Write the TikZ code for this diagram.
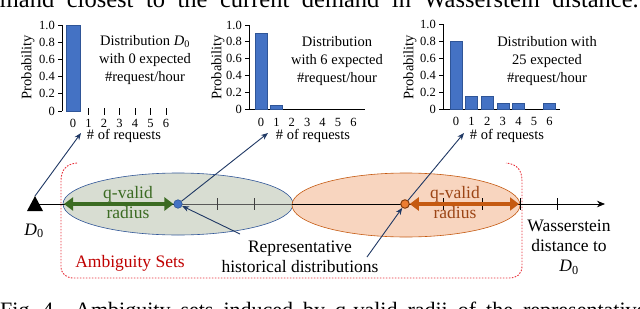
\documentclass[tikz,border=0pt]{standalone}
\usepackage{fontspec}
\setmainfont{Liberation Serif}
\usetikzlibrary{arrows.meta}
\definecolor{barblue}{HTML}{4472C4}
\definecolor{barbord}{HTML}{2F5597}
\definecolor{navy}{HTML}{1F3864}
\definecolor{gfill}{HTML}{D8DDD2}
\definecolor{ofill}{HTML}{F8D5BF}
\definecolor{oline}{HTML}{C55A11}
\definecolor{gdark}{HTML}{3B6B22}
\definecolor{otext}{HTML}{9C4515}
\definecolor{rline}{HTML}{E8303A}
\definecolor{rtext}{HTML}{C00000}
\definecolor{odotc}{HTML}{ED7D31}
\definecolor{odotb}{HTML}{843C0C}
\tikzset{
  lbl/.style={font=\fontsize{17.5}{20}\selectfont, align=center, inner sep=0pt},
  chtxt/.style={font=\fontsize{14.5}{18}\selectfont, align=center, inner sep=0pt},
  ticklab/.style={font=\fontsize{12.5}{13}\selectfont, inner sep=0pt},
  xlab/.style={font=\fontsize{12.5}{13}\selectfont, inner sep=0pt, anchor=base},
  bar/.style={fill=barblue, draw=barbord, line width=0.6pt},
  navyarrow/.style={draw=navy, line width=0.9pt, -{Stealth[length=7pt,width=5.5pt]}},
  radarrow/.style={line width=3.6pt, {Triangle[length=9pt,width=13pt]}-{Triangle[length=9pt,width=13pt]}},
  axtick/.style={line width=0.7pt},
  capt/.style={inner sep=0pt, font=\fontsize{24.5}{24.5}\selectfont},
}
\begin{document}
\begin{tikzpicture}[x=1pt,y=-1pt]
\clip (0,0) rectangle (640,308);
\fill[white] (0,0) rectangle (640,308);

% ---- captions (cut off by the frame, as in the reference) ----
\node[capt, anchor=base east] (captop) at (639,7) {\spaceskip=12.5pt\relax mand closest to the current demand in Wasserstein distance.};
\node[capt, anchor=base west, font=\fontsize{22}{22}\selectfont] (capfig) at (0,317) {Fig. 4.};
\node[capt, anchor=base west, font=\fontsize{22}{22}\selectfont] (capbot) at (75,317) {\spaceskip=10pt\relax Ambiguity sets induced by q-valid radii of the representative};

% ---- chart 1 ----
\draw[line width=0.8pt] (62,25) -- (62,111);
\foreach \v/\t in {0/0,1/0.2,2/0.4,3/0.6,4/0.8,5/1.0}{
  \draw[axtick] (58,111-\v*17.2) -- (62,111-\v*17.2);
  \node[ticklab, anchor=east] (ya\v) at (55,111-\v*17.2) {\t};
}
\draw[bar] (66,111) rectangle (80,25);
\foreach \k in {1,...,6}{\draw[axtick] (73+\k*15.5,108) -- (73+\k*15.5,115);}
\foreach \k in {0,...,6}{\node[xlab] (xa\k) at (73+\k*15.5,127) {\k};}
\node[chtxt, anchor=base] (xla) at (124,139) {\# of requests};
\node[chtxt, rotate=90] (pa) at (28,67) {Probability};
\node[chtxt] (ta) at (145,60) {Distribution {\itshape D}\textsubscript{0}\\with 0 expected\\\#request/hour};

% ---- chart 2 ----
\draw[line width=0.8pt] (249,25) -- (249,109) -- (365,109);
\foreach \v/\t in {0/0,1/0.2,2/0.4,3/0.6,4/0.8,5/1.0}{
  \draw[axtick] (245,109-\v*16.8) -- (249,109-\v*16.8);
  \node[ticklab, anchor=east] (yb\v) at (242,109-\v*16.8) {\t};
}
\draw[bar] (255,109) rectangle (267,33.4);
\draw[bar] (270.5,109) rectangle (282.5,104.8);
\foreach \k in {0,...,6}{\node[xlab] (xb\k) at (261+\k*15.4,126) {\k};}
\node[chtxt, rotate=90] (pb) at (218,67) {Probability};
\node[chtxt, anchor=base] (xlb) at (313,139) {\# of requests};
\node[chtxt] (tb) at (337,61) {Distribution\\with 6 expected\\\#request/hour};

% ---- chart 3 ----
\draw[line width=0.8pt] (443,24) -- (443,109) -- (560,109);
\foreach \v/\t in {0/0,1/0.2,2/0.4,3/0.6,4/0.8,5/1.0}{
  \draw[axtick] (439,109-\v*17) -- (443,109-\v*17);
  \node[ticklab, anchor=east] (yc\v) at (436,109-\v*17) {\t};
}
\foreach \k/\p in {0/0.8,1/0.15,2/0.15,3/0.07,4/0.07,6/0.07}{
  \draw[bar] (450+\k*15.6,109) rectangle (462+\k*15.6,109-\p*85);
}
\foreach \k in {0,...,6}{\node[xlab] (xc\k) at (456+\k*15.6,125.5) {\k};}
\node[chtxt, rotate=90] (pc) at (410,67) {Probability};
\node[chtxt, anchor=base] (xlc) at (507,139) {\# of requests};
\node[chtxt] (tc) at (547,61) {Distribution with\\25 expected\\\#request/hour};

% ---- ellipses ----
\draw[draw=barbord, line width=0.6pt, fill=gfill] (178,204) ellipse [x radius=115pt, y radius=31pt];
\draw[draw=oline, line width=0.6pt, fill=ofill] (406,205) ellipse [x radius=114pt, y radius=32pt];

% ---- ambiguity bracket ----
\draw[rline, line width=0.9pt, dash pattern=on 1.6pt off 1.4pt]
  (77,163) .. controls (66,164) and (61,170) .. (61,181) -- (61,266)
  .. controls (61,274) and (66,278) .. (74,278) -- (509,278)
  .. controls (517,278) and (522,274) .. (522,266) -- (522,181)
  .. controls (522,170) and (517,164) .. (506,163);

% ---- axis ----
\coordinate (tritop) at (35,196);
\coordinate (axend) at (605,204);
\fill (27,211) -- (tritop) -- (43,211) -- cycle;
\draw[line width=0.8pt, -{Stealth[length=8pt,width=6.5pt]}] (35,204) -- (axend);
\draw[line width=0.8pt, black!65] (180,204) -- (292,204);
\foreach \x in {217,254}{\draw[axtick, black!75] (\x,198) -- (\x,210);}
\foreach \x in {443,482,520,557}{\draw[axtick] (\x,198) -- (\x,210);}

% ---- dots and radius arrows ----
\node[circle, fill=barblue, draw=barbord, line width=0.6pt, minimum size=8.5pt, inner sep=0pt] (bdot) at (178,204) {};
\node[circle, fill=odotc, draw=odotb, line width=1pt, minimum size=8.5pt, inner sep=0pt] (odot) at (405,204) {};
\coordinate (gl) at (64,204);
\coordinate (or) at (519,204);
\draw[radarrow, gdark] (gl) -- (bdot.west);
\draw[radarrow, oline] (odot.east) -- (or);
\node[lbl, text=gdark] (rg) at (128,203) {q-valid\\radius};
\node[lbl, text=otext] (ro) at (455,203) {q-valid\\radius};

% ---- labels ----
\node[lbl] (d0) at (34,231) {{\itshape D}\textsubscript{0}};
\node[lbl] (wd) at (569,247) {Wasserstein\\distance to\\{\itshape D}\textsubscript{0}};
\node[lbl, text=rtext] (amb) at (130,263) {Ambiguity Sets};
\node[lbl] (rep) at (300,257) {Representative\\historical distributions};

% ---- navy arrows ----
\coordinate (tipa) at (81,133);
\coordinate (tipb) at (268,133);
\coordinate (tipc) at (464,133);
\coordinate (fromb) at (240,234);
\coordinate (fromo) at (367,257);
\draw[navyarrow] (tritop) -- (tipa);
\draw[navyarrow] (bdot) -- (tipb);
\draw[navyarrow] (odot) -- (tipc);
\draw[navyarrow] (fromb) -- (bdot);
\draw[navyarrow] (fromo) -- (odot);
\end{tikzpicture}
\end{document}
